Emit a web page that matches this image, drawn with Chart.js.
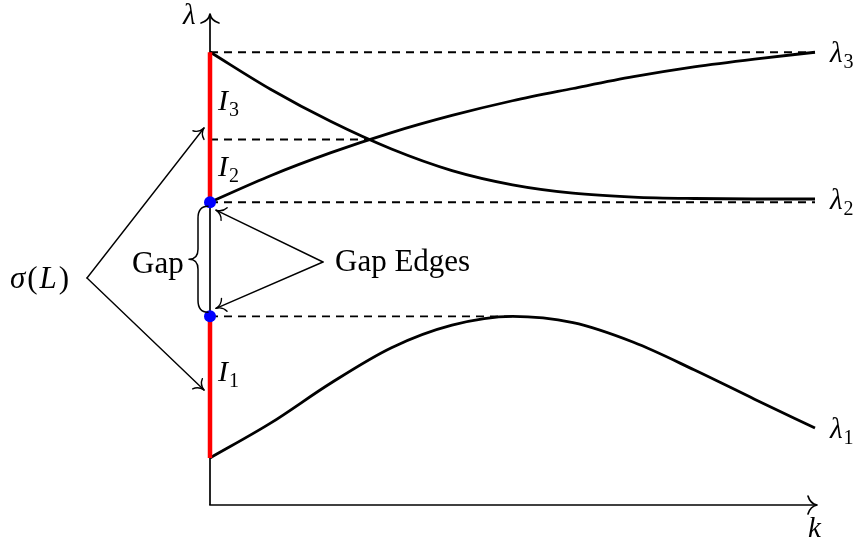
<!DOCTYPE html>
<html>
<head>
<meta charset="utf-8">
<script src="https://cdn.jsdelivr.net/npm/chart.js@4/dist/chart.umd.min.js"></script>
<style>
  html, body { margin: 0; padding: 0; background: #fff; }
  #wrap { width: 860px; height: 543px; position: relative; }
</style>
</head>
<body>
<div id="wrap"><canvas id="c"></canvas></div>
<script>
// ---- data ----
const kValues  = [0, 1, 2, 3, 4, 5, 6, 7, 8, 9, 10];
const lambda1  = [0.96, 1.67, 2.49, 3.21, 3.67, 3.85, 3.72, 3.32, 2.76, 2.16, 1.57];
const lambda2  = [9.245, 8.485, 7.825, 7.265, 6.825, 6.535, 6.365, 6.285, 6.255, 6.245, 6.245];
const lambda3  = [6.18, 6.72, 7.19, 7.60, 7.95, 8.25, 8.50, 8.74, 8.94, 9.10, 9.24];
const levelValues = [9.24, 7.46, 6.18, 3.85];      // dashed reference levels
const levelEnds   = [10, 2.63, 10, 5];             // k where each dashed level stops
const spectrumBands = [[0.96, 3.85], [6.18, 9.24]]; // red intervals on the λ axis
const gapEdges = [6.18, 3.85];
const curveNames = ['1', '2', '3'];                 // subscripts of λ labels
const bandNames = [['1', 2.53], ['2', 6.71], ['3', 8.06]];

const pts = ys => kValues.map((k, i) => ({x: k, y: ys[i]}));

const datasets = [];
datasets.push({ data: gapEdges.map(v => ({x: 0, y: v})), showLine: false,
  pointRadius: 6, pointBackgroundColor: '#0000ff', pointBorderWidth: 0, order: 0 });
spectrumBands.forEach(b => datasets.push({
  data: [{x: 0, y: b[0]}, {x: 0, y: b[1]}], showLine: true, borderColor: '#ff0000',
  borderWidth: 4.5, pointRadius: 0, borderCapStyle: 'butt', order: 1 }));
[lambda1, lambda2, lambda3].forEach(ys => datasets.push({
  data: pts(ys), showLine: true, borderColor: '#000', borderWidth: 2.8, pointRadius: 0,
  cubicInterpolationMode: 'monotone', order: 2 }));
levelValues.forEach((v, i) => datasets.push({
  data: [{x: 0, y: v}, {x: levelEnds[i], y: v}], showLine: true, borderColor: '#000',
  borderWidth: 1.9, borderDash: [8, 6], pointRadius: 0, order: 3 }));

function arrowHead(ctx, tx, ty, fx, fy, L, W) {
  const dx = tx - fx, dy = ty - fy, len = Math.hypot(dx, dy);
  const ux = dx / len, uy = dy / len, nx = -uy, ny = ux;
  ctx.beginPath();
  [1, -1].forEach(s => {
    const ex = tx - ux * L + nx * W * s, ey = ty - uy * L + ny * W * s;
    const cx = tx - ux * L * 0.75 + nx * W * s * 0.15, cy = ty - uy * L * 0.75 + ny * W * s * 0.15;
    ctx.moveTo(tx, ty);
    ctx.quadraticCurveTo(cx, cy, ex, ey);
  });
  ctx.stroke();
}
function arrow(ctx, fx, fy, tx, ty, L, W) {
  ctx.beginPath(); ctx.moveTo(fx, fy); ctx.lineTo(tx, ty); ctx.stroke();
  arrowHead(ctx, tx, ty, fx, fy, L, W);
}
const SERIF = '"Liberation Serif", "Times New Roman", serif';
function sym(ctx, base, sub, x, y, size) {
  ctx.font = `italic ${size}px ${SERIF}`;
  ctx.fillText(base, x, y);
  const w = ctx.measureText(base).width;
  ctx.font = `${Math.round(size * 0.68)}px ${SERIF}`;
  ctx.fillText(sub, x + w + 1, y + 6);
}

const axesPlugin = {
  id: 'axesPlugin',
  beforeDatasetsDraw(chart) {
    const {ctx, scales: {x, y}} = chart;
    const x0 = x.getPixelForValue(0), y0 = y.getPixelForValue(0);
    const xEnd = x.getPixelForValue(10) + 2, yTop = y.getPixelForValue(10) - 1;
    ctx.save();
    ctx.strokeStyle = '#000'; ctx.lineWidth = 1.7; ctx.lineCap = 'butt';
    ctx.beginPath(); ctx.moveTo(x0, y0); ctx.lineTo(x0, yTop); ctx.stroke();
    ctx.beginPath(); ctx.moveTo(x0 - 0.8, y0); ctx.lineTo(xEnd, y0); ctx.stroke();
    ctx.lineCap = 'round';
    arrowHead(ctx, x0, yTop, x0, y0, 9, 9);
    arrowHead(ctx, xEnd, y0, x0, y0, 9, 9);
    ctx.restore();
  },
  afterDraw(chart) {
    const {ctx, scales: {x, y}} = chart;
    const x0 = x.getPixelForValue(0), y0 = y.getPixelForValue(0);
    ctx.save();
    ctx.fillStyle = '#000'; ctx.strokeStyle = '#000'; ctx.textBaseline = 'alphabetic';
    // axis names
    ctx.font = `italic 29px ${SERIF}`;
    ctx.fillText('λ', x0 - 27, y.getPixelForValue(10) + 9);
    ctx.fillText('k', x.getPixelForValue(10) - 7, y0 + 32);
    // curve labels
    const ends = [lambda1, lambda2, lambda3].map(a => a[a.length - 1]);
    curveNames.forEach((n, i) => sym(ctx, 'λ', n, x.getPixelForValue(10) + 15,
      y.getPixelForValue(ends[i]) + 10, 29));
    // band labels
    bandNames.forEach(([n, v]) => sym(ctx, 'I', n, x0 + 8, y.getPixelForValue(v), 30));
    // σ(L)
    let tx = 10, ty = 288;
    const parts = [['σ', true], ['(', false], ['L', true], [')', false]];
    parts.forEach(([t, it]) => {
      ctx.font = `${it ? 'italic ' : ''}31px ${SERIF}`;
      ctx.fillText(t, tx, ty);
      tx += ctx.measureText(t).width + 2;
    });
    ctx.font = `31px ${SERIF}`;
    ctx.fillText('Gap', 132, 273);
    ctx.fillText('Gap Edges', 335, 271);
    // annotation arrows
    ctx.lineWidth = 1.4; ctx.lineCap = 'round'; ctx.lineJoin = 'round';
    arrow(ctx, 87, 278, x0 - 6, 128, 9, 7);
    arrow(ctx, 87, 278, x0 - 6, 390, 9, 7);
    const yA = y.getPixelForValue(gapEdges[0]), yB = y.getPixelForValue(gapEdges[1]);
    arrow(ctx, 323, 262, x0 + 6, yA + 8, 9, 7);
    arrow(ctx, 323, 262, x0 + 6, yB - 8, 9, 7);
    // brace
    const bx = x0 - 2, top = yA + 4, bot = yB - 4, mid = (top + bot) / 2;
    ctx.lineWidth = 1.5;
    ctx.beginPath();
    ctx.moveTo(bx, top);
    ctx.quadraticCurveTo(bx - 10, top, bx - 10, top + 12);
    ctx.lineTo(bx - 10, mid - 10);
    ctx.quadraticCurveTo(bx - 10, mid, bx - 19, mid);
    ctx.quadraticCurveTo(bx - 10, mid, bx - 10, mid + 10);
    ctx.lineTo(bx - 10, bot - 12);
    ctx.quadraticCurveTo(bx - 10, bot, bx, bot);
    ctx.stroke();
    ctx.restore();
  }
};

new Chart(document.getElementById('c'), {
  type: 'scatter',
  data: { datasets },
  options: {
    responsive: true, maintainAspectRatio: false, animation: false,
    events: [],
    layout: { padding: { left: 210, right: 45, top: 15, bottom: 38 } },
    datasets: { scatter: { clip: false } },
    scales: {
      x: { type: 'linear', min: 0, max: 10, display: false },
      y: { type: 'linear', min: 0, max: 10, display: false }
    },
    plugins: { legend: { display: false }, tooltip: { enabled: false } }
  },
  plugins: [axesPlugin]
});
</script>
</body>
</html>
